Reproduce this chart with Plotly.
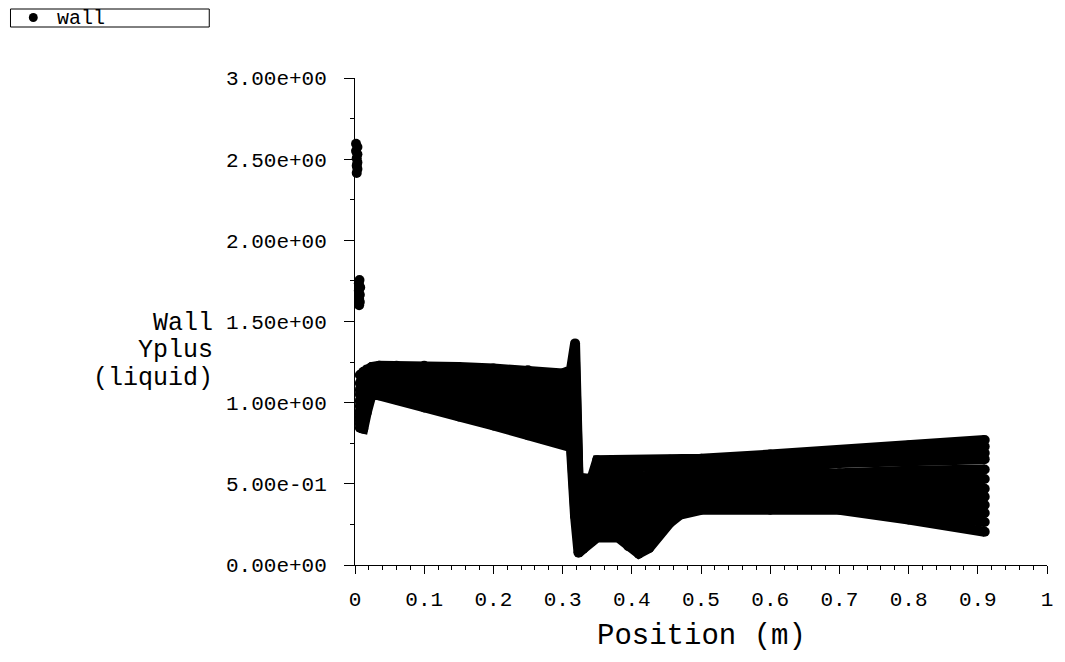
import plotly.graph_objects as go

# Sample positions along the wall (m) shared by every wall line
position = [0.007, 0.012, 0.017, 0.024, 0.035, 0.06, 0.10, 0.15, 0.20, 0.25,
            0.30, 0.312, 0.318, 0.323, 0.33, 0.342, 0.35, 0.38, 0.395, 0.41,
            0.425, 0.44, 0.455, 0.47, 0.50, 0.60, 0.70, 0.80, 0.91]

# Wall y+ (liquid) along each wall line, top to bottom
yplus_row01 = [1.17, 1.19, 1.205, 1.22, 1.227, 1.227, 1.227, 1.22, 1.21, 1.20,
               1.18, 1.20, 1.365, 0.53, 0.535, 0.535, 0.646, 0.646, 0.646, 0.646,
               0.646, 0.646, 0.648, 0.65, 0.655, 0.68, 0.707, 0.736, 0.77]
yplus_row02 = [1.12, 1.16, 1.19, 1.204, 1.21, 1.207, 1.204, 1.194, 1.179, 1.164,
               1.14, 1.16, 1.25, 0.50, 0.50, 0.50, 0.60, 0.60, 0.596, 0.593,
               0.598, 0.605, 0.612, 0.62, 0.626, 0.65, 0.68, 0.705, 0.73]
yplus_row03 = [1.08, 1.13, 1.17, 1.188, 1.193, 1.188, 1.18, 1.168, 1.147, 1.127,
               1.101, 1.12, 1.12, 0.47, 0.46, 0.47, 0.56, 0.56, 0.55, 0.54,
               0.551, 0.563, 0.576, 0.589, 0.598, 0.62, 0.655, 0.675, 0.69]
yplus_row04 = [1.05, 1.10, 1.15, 1.172, 1.176, 1.168, 1.157, 1.142, 1.116, 1.091,
               1.061, 1.08, 1.07, 0.44, 0.43, 0.43, 0.52, 0.52, 0.505, 0.488,
               0.505, 0.522, 0.54, 0.559, 0.569, 0.59, 0.628, 0.644, 0.652]
yplus_row05 = [1.01, 1.06, 1.13, 1.156, 1.159, 1.148, 1.134, 1.116, 1.084, 1.055,
               1.022, 1.04, 1.02, 0.41, 0.39, 0.40, 0.48, 0.48, 0.458, 0.435,
               0.457, 0.48, 0.504, 0.528, 0.541, 0.56, 0.565, 0.58, 0.588]
yplus_row06 = [0.98, 1.02, 1.11, 1.14, 1.142, 1.128, 1.11, 1.09, 1.053, 1.018,
               0.982, 0.995, 0.97, 0.38, 0.35, 0.36, 0.44, 0.44, 0.41, 0.382,
               0.41, 0.439, 0.468, 0.498, 0.512, 0.53, 0.53, 0.535, 0.53]
yplus_row07 = [0.95, 0.98, 1.09, 1.125, 1.125, 1.109, 1.087, 1.065, 1.022, 0.982,
               0.943, 0.955, 0.92, 0.34, 0.32, 0.33, 0.39, 0.395, 0.36, 0.329,
               0.362, 0.397, 0.432, 0.468, 0.483, 0.50, 0.495, 0.49, 0.47]
yplus_row08 = [0.93, 0.95, 1.06, 1.109, 1.108, 1.089, 1.063, 1.039, 0.99, 0.945,
               0.903, 0.91, 0.87, 0.30, 0.28, 0.29, 0.35, 0.35, 0.312, 0.276,
               0.315, 0.356, 0.396, 0.437, 0.455, 0.47, 0.465, 0.45, 0.42]
yplus_row09 = [0.91, 0.92, 1.03, 1.093, 1.091, 1.069, 1.04, 1.013, 0.959, 0.909,
               0.864, 0.87, 0.80, 0.26, 0.24, 0.26, 0.30, 0.31, 0.266, 0.224,
               0.268, 0.314, 0.36, 0.407, 0.426, 0.44, 0.435, 0.41, 0.37]
yplus_row10 = [0.89, 0.89, 1.00, 1.077, 1.074, 1.049, 1.017, 0.987, 0.928, 0.873,
               0.824, 0.83, 0.60, 0.22, 0.20, 0.22, 0.26, 0.26, 0.215, 0.171,
               0.22, 0.273, 0.325, 0.376, 0.398, 0.405, 0.405, 0.37, 0.32]
yplus_row11 = [0.87, 0.86, 0.97, 1.061, 1.057, 1.03, 0.993, 0.961, 0.896, 0.836,
               0.785, 0.78, 0.35, 0.16, 0.16, 0.185, 0.215, 0.215, 0.165, 0.118,
               0.172, 0.231, 0.29, 0.346, 0.369, 0.37, 0.37, 0.325, 0.265]
yplus_row12 = [0.845, 0.84, 0.94, 1.05, 1.045, 1.02, 0.97, 0.915, 0.86, 0.80,
               0.745, 0.725, 0.30, 0.075, 0.10, 0.145, 0.17, 0.17, 0.115, 0.07,
               0.105, 0.19, 0.26, 0.31, 0.34, 0.34, 0.34, 0.28, 0.205]

# Isolated high values right at the leading edge
edge_position = [0.0015, 0.0035, 0.0015, 0.0035, 0.0025, 0.0035, 0.0025, 0.0035, 0.0025,
                 0.0065, 0.0055, 0.0075, 0.0055, 0.0070, 0.0060, 0.0070, 0.0060]
edge_yplus = [2.595, 2.575, 2.55, 2.53, 2.505, 2.48, 2.46, 2.44, 2.415,
              1.755, 1.735, 1.71, 1.69, 1.665, 1.64, 1.62, 1.60]

x_tick_vals = [0, 0.1, 0.2, 0.3, 0.4, 0.5, 0.6, 0.7, 0.8, 0.9, 1.0]
x_tick_text = ["0", "0.1", "0.2", "0.3", "0.4", "0.5", "0.6", "0.7", "0.8", "0.9", "1"]
y_tick_vals = [0, 0.5, 1.0, 1.5, 2.0, 2.5, 3.0]
y_tick_text = ["0.00e+00", "5.00e-01", "1.00e+00", "1.50e+00",
               "2.00e+00", "2.50e+00", "3.00e+00"]

rows = [yplus_row01, yplus_row02, yplus_row03, yplus_row04, yplus_row05, yplus_row06,
        yplus_row07, yplus_row08, yplus_row09, yplus_row10, yplus_row11, yplus_row12]

FONT = "Liberation Mono"
DOT = 10

fig = go.Figure()
for row in rows:
    fig.add_trace(go.Scatter(
        x=position, y=row, mode="lines+markers", name="wall",
        line=dict(color="black", width=DOT),
        marker=dict(color="black", size=DOT, line=dict(width=0)),
        cliponaxis=False, showlegend=False, hoverinfo="skip",
    ))
fig.add_trace(go.Scatter(
    x=edge_position, y=edge_yplus, mode="markers", name="wall",
    marker=dict(color="black", size=DOT, line=dict(width=0)),
    cliponaxis=False, showlegend=False, hoverinfo="skip",
))

# plot area: x 355..1053 px, y 78..565 px
L, T, W, H = 355, 78, 698, 487


def px(x):
    return (x - L) / W


def py(y):
    return 1 - (y - T) / H


axis_common = dict(
    showline=True, linecolor="black", linewidth=1,
    ticks="outside", tickcolor="black", tickwidth=1,
    showgrid=False, zeroline=False,
    tickfont=dict(family=FONT, size=21, color="black"),
)

fig.update_layout(
    width=1065, height=662,
    margin=dict(l=L, r=1065 - L - W, t=T, b=662 - T - H),
    paper_bgcolor="white", plot_bgcolor="white",
    showlegend=False,
    font=dict(family=FONT, color="black"),
    xaxis=dict(
        range=[0, 1], tickmode="array", tickvals=x_tick_vals, ticktext=x_tick_text,
        ticklen=8, ticklabelstandoff=7,
        minor=dict(tickmode="linear", tick0=0, dtick=0.02, ticks="outside",
                   ticklen=4, tickcolor="black", showgrid=False),
        **axis_common,
    ),
    yaxis=dict(
        range=[0, 3], tickmode="array", tickvals=y_tick_vals, ticktext=y_tick_text,
        ticklen=10, ticklabelstandoff=13,
        minor=dict(tickmode="linear", tick0=0, dtick=0.25, ticks="outside",
                   ticklen=4, tickcolor="black", showgrid=False),
        **axis_common,
    ),
)

annotations = [
    dict(text="Position (m)", x=0.5, y=py(636), xanchor="center", yanchor="middle",
         font=dict(family=FONT, size=29, color="black")),
    dict(text="Wall", x=px(214), y=py(323), xanchor="right", yanchor="middle",
         font=dict(family=FONT, size=25, color="black")),
    dict(text="Yplus", x=px(214), y=py(350), xanchor="right", yanchor="middle",
         font=dict(family=FONT, size=25, color="black")),
    dict(text="(liquid)", x=px(214), y=py(378), xanchor="right", yanchor="middle",
         font=dict(family=FONT, size=25, color="black")),
    dict(text="wall", x=px(52), y=py(19), xanchor="left", yanchor="middle",
         font=dict(family=FONT, size=20, color="black")),
]
for a in annotations:
    a.update(xref="paper", yref="paper", showarrow=False)
fig.update_layout(annotations=annotations)

# legend frame and symbol
fig.add_shape(type="rect", xref="paper", yref="paper",
              x0=px(7.5), x1=px(208), y0=py(27), y1=py(9),
              line=dict(color="black", width=1), fillcolor="white")
fig.add_shape(type="circle", xref="paper", yref="paper",
              x0=px(26), x1=px(35), y0=py(22), y1=py(13),
              line=dict(color="black", width=0), fillcolor="black")

fig.write_html("out.html")
